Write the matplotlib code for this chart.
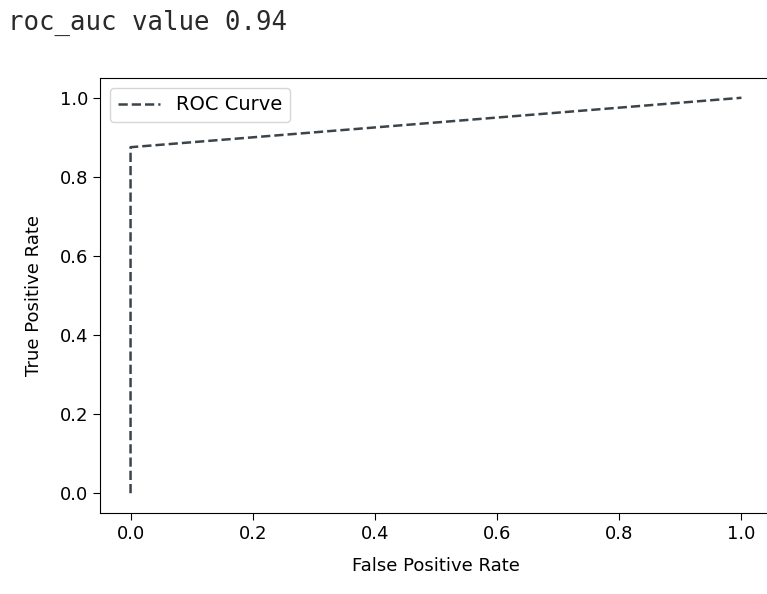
import matplotlib
matplotlib.use('Agg')
import matplotlib.pyplot as plt

# roc curve points
fpr = [0.0, 0.0, 1.0]
tpr = [0.0, 0.875, 1.0]
rocAuc = 0.94

xTicks = [0.0, 0.2, 0.4, 0.6, 0.8, 1.0]
yTicks = [0.0, 0.2, 0.4, 0.6, 0.8, 1.0]


def plotRoc():
    fig = plt.figure(figsize=(7.67, 5.94), dpi=100)
    fig.text(8 / 767, 1 - 23 / 594, 'roc_auc value %.2f' % rocAuc,
             family='DejaVu Sans Mono', fontsize=18.5, color='#2a2a2a', va='center')

    # right edge of the axes runs past the picture, as in the screenshot
    ax = fig.add_axes([100 / 767, 1 - 513 / 594, 672 / 767, 435 / 594])
    ax.plot(fpr, tpr, linestyle='--', color='#3c4449', linewidth=1.8, label='ROC Curve')
    ax.set_xticks(xTicks)
    ax.set_yticks(yTicks)
    ax.tick_params(labelsize=13, length=5)
    ax.set_xlabel('False Positive Rate', fontsize=13, labelpad=10)
    ax.set_ylabel('True Positive Rate', fontsize=13, labelpad=12)
    ax.legend(loc='upper left', fontsize=14, handlelength=2.2)

    fig.savefig('out.png', dpi=100)


if __name__ == '__main__':
    plotRoc()
